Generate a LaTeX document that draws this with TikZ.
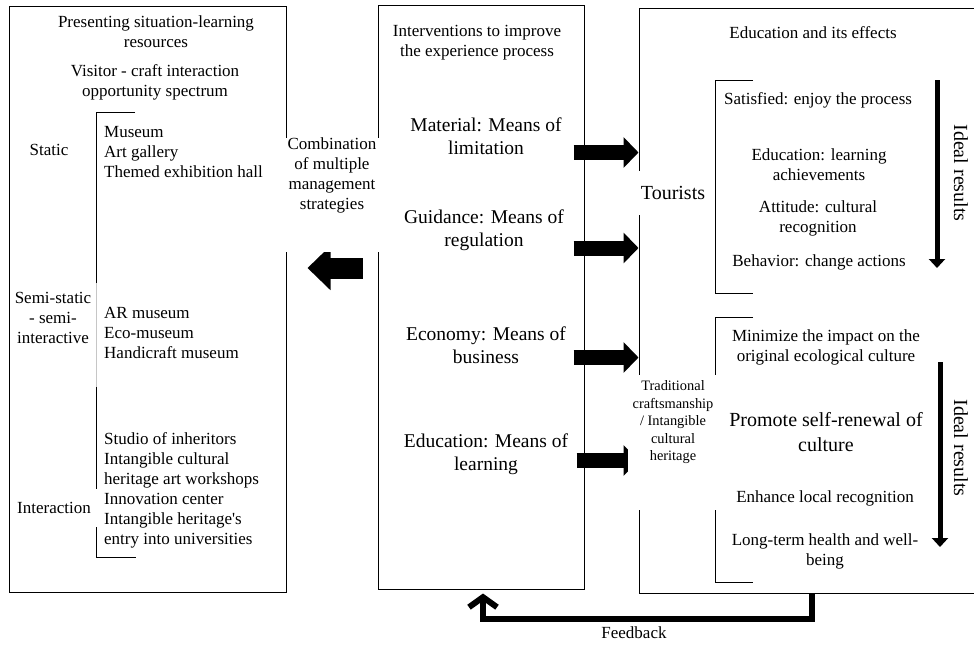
\documentclass[tikz,border=0pt]{standalone}
\usepackage{fontspec}
\setmainfont{Liberation Serif}
\usetikzlibrary{arrows.meta}
\usetikzlibrary{positioning}

\begin{document}
\begin{tikzpicture}[
    x=1pt, y=-1pt,
    frame/.style={draw, line width=1pt, inner sep=0pt},
    txt/.style={font=\fontsize{17}{20}\selectfont, align=center, inner sep=0pt},
    listtxt/.style={txt, align=left, anchor=west},
    bigtxt/.style={font=\fontsize{19.5}{23.5}\selectfont, align=center, inner sep=0pt},
    smalltxt/.style={font=\fontsize{14.4}{17.5}\selectfont, align=center, inner sep=0pt},
    gapbox/.style={fill=white, inner sep=0pt},
    blockarrow/.style={line width=15pt, -{Triangle[length=15pt,width=30pt]}},
    backarrow/.style={line width=21pt, -{Triangle[length=23pt,width=43pt]}},
    downarrow/.style={line width=5pt, -{Triangle[length=9pt,width=16pt]}},
    bracket/.style={line width=1pt}
]
\useasboundingbox (0,0) rectangle (974,645);
\clip (0,0) rectangle (974,645);
\fill[white] (0,0) rectangle (974,645);

% three panels
\node[frame, minimum width=277pt, minimum height=586pt] (lbox) at (147.5,299) {};
\node[frame, minimum width=206pt, minimum height=584pt] (mid) at (481,297) {};
\node[frame, minimum width=341pt, minimum height=585pt] (rbox) at (809.5,300.5) {};

% brackets
\draw[bracket] (135,112) -| (96,283);
\draw[bracket, gray!45] (96,283) -- (96,387);
\draw[bracket] (96,387) |- (136,557);
\draw[bracket] (753,80) -| (715,293) -- (753,293);
\draw[bracket] (753,317) -| (715,582) -- (753,582);

% block arrows
\draw[blockarrow] ([xshift=-11pt]mid.east |- 0,152.5) -- (rbox.west |- 0,152.5);
\draw[blockarrow] ([xshift=-11pt]mid.east |- 0,248) -- (rbox.west |- 0,248);
\draw[blockarrow] ([xshift=-11pt]mid.east |- 0,357.5) -- (rbox.west |- 0,357.5);
\draw[blockarrow] ([xshift=-8pt]mid.east |- 0,460.5) -- (rbox.west |- 0,460.5);
\draw[backarrow] ([xshift=-15pt]mid.west |- 0,268) -- ([xshift=21pt]lbox.east |- 0,268);

% feedback loop
\draw[line width=6pt, -{Straight Barb[length=10pt,width=28pt]}]
    (rbox.south -| 812,0) -- (812,619) -| ([yshift=-4pt]mid.south -| 483,0);
\node[txt] (fb) at (634,633) {Feedback};

% labels that break the lines
\node[gapbox, txt, minimum width=96pt, minimum height=110pt] (combo) at (332,195)
    {Combination\\of multiple\\management\\strategies\\[22pt]\mbox{}};
\node[gapbox, txt, font=\fontsize{20}{24}\selectfont, minimum width=80pt, minimum height=44pt] (tour) at (673,193) {Tourists};
\node[gapbox, smalltxt, minimum width=90pt, minimum height=135pt] (craft) at (673,442.5)
    {Traditional\\craftsmanship\\/ Intangible\\cultural\\heritage\\[26pt]\mbox{}};
\node[gapbox, txt, minimum width=86pt, minimum height=38pt] (inter) at (54,508) {Interaction};

% left panel
\node[txt] (lhead) at (156,32) {Presenting situation-learning\\resources};
\node[txt] (spec) at (155,82) {Visitor - craft interaction\\opportunity spectrum};
\node[txt] (static) at (49,150) {Static};
\node[listtxt] (statlist) at (104,152) {Museum\\Art gallery\\Themed exhibition hall};
\node[txt] (semi) at (53,318) {Semi-static\\- semi-\\interactive};
\node[listtxt] (semilist) at (104,333) {AR museum\\Eco-museum\\Handicraft museum};
\node[listtxt] (interlist) at (104,490) {Studio of inheritors\\Intangible cultural\\heritage art workshops\\Innovation center\\Intangible heritage\textquotesingle s\\entry into universities};

% middle panel
\node[txt] (mhead) at (477,43) {Interventions to improve\\the experience process};
\node[bigtxt] (material) at (486,136) {Material: Means of\\limitation};
\node[bigtxt] (guidance) at (484,230) {Guidance: Means of\\regulation};
\node[bigtxt] (economy) at (486,345) {Economy: Means of\\business};
\node[bigtxt] (edu) at (486,454) {Education: Means of\\learning};

% right panel
\node[txt] (rhead) at (813,33) {Education and its effects};
\node[txt] (satisfied) at (818,100) {Satisfied: enjoy the process};
\node[txt] (learn) at (819,165) {Education: learning\\achievements};
\node[txt] (attitude) at (818,218) {Attitude: cultural\\recognition};
\node[txt] (behavior) at (819,262) {Behavior: change actions};
\node[txt] (minimize) at (826,347) {Minimize the impact on the\\original ecological culture};
\node[txt, font=\fontsize{20}{25}\selectfont] (promote) at (826,432) {Promote self-renewal of\\culture};
\node[txt] (enhance) at (825,498) {Enhance local recognition};
\node[txt] (health) at (825,551) {Long-term health and well-\\being};

\node[txt, font=\fontsize{20}{24}\selectfont, rotate=-90] (ideal1) at (961,173) {Ideal results};
\node[txt, font=\fontsize{20}{24}\selectfont, rotate=-90] (ideal2) at (961,448) {Ideal results};
\coordinate (top1) at (937,80);
\coordinate (end1) at (937,268);
\coordinate (top2) at (940,362);
\coordinate (end2) at (940,547);
\draw[downarrow] (top1) -- (end1);
\draw[downarrow] (top2) -- (end2);
\end{tikzpicture}
\end{document}
